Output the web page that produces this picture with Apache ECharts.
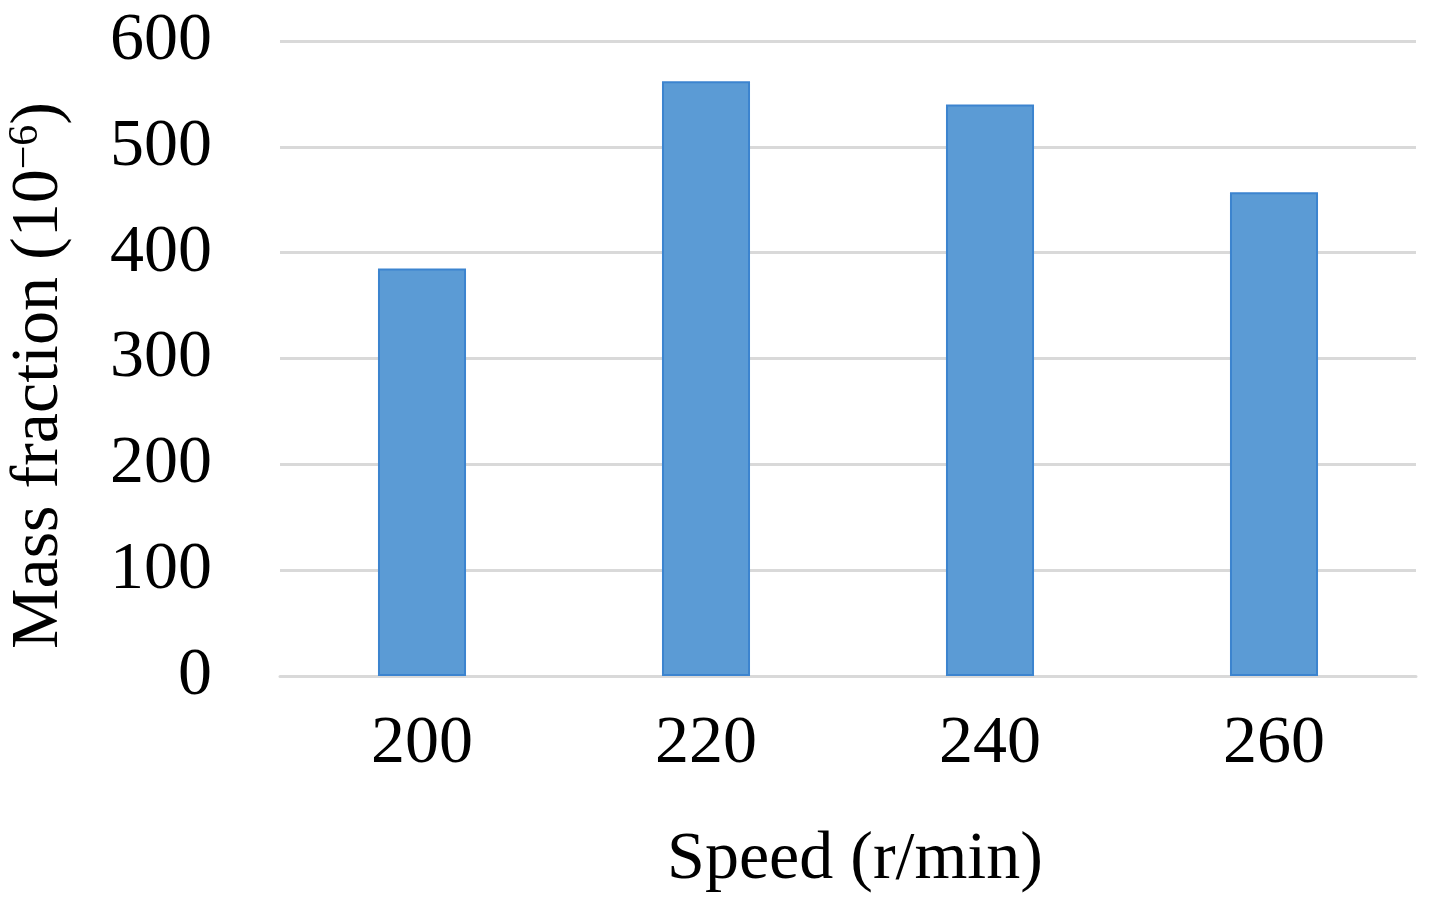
<!DOCTYPE html>
<html><head><meta charset="utf-8">
<script src="https://cdn.jsdelivr.net/npm/echarts@6/dist/echarts.min.js"></script>
<style>html,body{margin:0;padding:0;background:#fff}#c{width:1430px;height:899px}</style>
</head><body><div id="c"></div>
<script>
const categories = ['200', '220', '240', '260'];
const massFraction = [385, 562, 540, 457];
const yTicks = [0, 100, 200, 300, 400, 500, 600];

const chart = echarts.init(document.getElementById('c'));
const font = 'Liberation Serif, Times New Roman, serif';
chart.setOption({
  animation: false,
  backgroundColor: '#fff',
  grid: { left: 280, right: 14, top: 41, bottom: 223, containLabel: false, outerBoundsMode: 'none' },
  xAxis: {
    type: 'category',
    data: categories,
    axisLine: { lineStyle: { color: '#d9d9d9', width: 3 } },
    axisTick: { show: false },
    axisLabel: { color: '#000', fontFamily: font, fontSize: 68, margin: 34 },
    name: 'Speed (r/min)',
    nameLocation: 'middle',
    nameGap: 150,
    nameTextStyle: { color: '#000', fontFamily: font, fontSize: 68, padding: [0, 0, 0, 14] }
  },
  yAxis: {
    type: 'value',
    min: yTicks[0], max: yTicks[yTicks.length - 1], interval: 100,
    axisLine: { show: false },
    axisTick: { show: false },
    splitLine: { lineStyle: { color: '#d9d9d9', width: 3 } },
    axisLabel: { color: '#000', fontFamily: font, fontSize: 68, margin: 68 },
    name: '{a|Mass fraction (10}{s|−6}{a|)}',
    nameLocation: 'middle',
    nameGap: 207,
    nameRotate: 90,
    nameTextStyle: {
      padding: [0, 34, 0, 0],
      rich: {
        a: { color: '#000', fontFamily: font, fontSize: 68 },
        s: { color: '#000', fontFamily: font, fontSize: 42, padding: [0, 0, 26, 0] }
      }
    }
  },
  series: [{
    type: 'bar',
    data: massFraction,
    barWidth: '31%',
    itemStyle: { color: '#5b9bd5', borderColor: '#3c84cf', borderWidth: 2 }
  }]
});
</script></body></html>
